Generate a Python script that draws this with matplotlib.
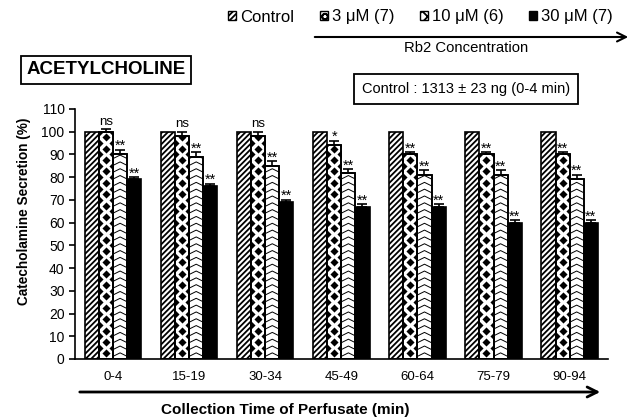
import numpy as np
import matplotlib
matplotlib.use("Agg")
import matplotlib.pyplot as plt
from matplotlib.patches import Patch, FancyArrowPatch

plt.rcParams['font.family'] = ['Liberation Sans', 'DejaVu Sans']
plt.rcParams['hatch.linewidth'] = 1.3

categories = ["0-4", "15-19", "30-34", "45-49", "60-64", "75-79", "90-94"]
series_names = ["Control", "3 \u03bcM (7)", "10 \u03bcM (6)", "30 \u03bcM (7)"]
control = [100, 100, 100, 100, 100, 100, 100]
rb2_3 = [100, 98, 98, 94, 90, 90, 90]
rb2_10 = [90, 89, 85, 82, 81, 81, 79]
rb2_30 = [79, 76, 69, 67, 67, 60, 60]
err_control = [0, 0, 0, 0, 0, 0, 0]
err_3 = [1, 2, 2, 2, 1, 1, 1]
err_10 = [2, 2, 2, 1.5, 2, 2, 2]
err_30 = [1, 1, 1, 1, 1, 1, 1]
sig_3 = ["ns", "ns", "ns", "*", "**", "**", "**"]
sig_10 = ["**"] * 7
sig_30 = ["**"] * 7

fig = plt.figure(figsize=(6.33, 4.19), dpi=100)
ax = fig.add_axes([0.1185, 0.1432, 0.8415, 0.5968])

x = np.arange(len(categories))
w = 0.185
offs = [-1.5 * w, -0.5 * w, 0.5 * w, 1.5 * w]

b0 = ax.bar(x + offs[0], control, w, facecolor='white', edgecolor='black',
            hatch='//////', linewidth=1.2, zorder=2)
b1 = ax.bar(x + offs[1], rb2_3, w, facecolor='white', edgecolor='black',
            linewidth=1.2, zorder=2)
b2 = ax.bar(x + offs[2], rb2_10, w, facecolor='white', edgecolor='black',
            linewidth=1.2, zorder=2)
b3 = ax.bar(x + offs[3], rb2_30, w, facecolor='black', edgecolor='black',
            linewidth=1.2, zorder=2)

# diamond pattern for 3 uM
for rect in b1:
    x0, w0, h0 = rect.get_x(), rect.get_width(), rect.get_height()
    cx = x0 + w0 / 2
    ys_c = np.arange(2.5, h0, 5.0)
    ys_e = np.arange(5.0, h0 + 2.5, 5.0)
    sc = ax.scatter(np.full_like(ys_c, cx), ys_c, marker='D', s=17, c='black',
                    linewidths=0, zorder=3)
    sc.set_clip_path(rect)
    for ex in (x0, x0 + w0):
        se = ax.scatter(np.full_like(ys_e, ex), ys_e, marker='D', s=17, c='black',
                        linewidths=0, zorder=3)
        se.set_clip_path(rect)
    ax.add_patch(plt.Rectangle((x0, 0), w0, h0, fill=False, edgecolor='black',
                               linewidth=1.2, zorder=4))

# chevron pattern for 10 uM
for rect in b2:
    x0, w0, h0 = rect.get_x(), rect.get_width(), rect.get_height()
    for yy in np.arange(1.0, h0 + 3, 3.0):
        xs = [x0 - 0.01, x0 + w0 / 2, x0 + w0 + 0.01]
        ys = [yy, yy + 1.7, yy]
        ln, = ax.plot(xs, ys, color='black', lw=0.7, zorder=3)
        ln.set_clip_path(rect)
    ax.add_patch(plt.Rectangle((x0, 0), w0, h0, fill=False, edgecolor='black',
                               linewidth=1.2, zorder=4))

for vals, errs, off in [(rb2_3, err_3, offs[1]), (rb2_10, err_10, offs[2]),
                        (rb2_30, err_30, offs[3])]:
    ax.errorbar(x + off, vals, yerr=[np.zeros(len(vals)), errs], fmt='none',
                ecolor='black', elinewidth=1.2, capsize=3.5, capthick=1.2, zorder=5)

for vals, errs, sigs, off in [(rb2_3, err_3, sig_3, offs[1]),
                              (rb2_10, err_10, sig_10, offs[2]),
                              (rb2_30, err_30, sig_30, offs[3])]:
    for i in range(len(vals)):
        s = sigs[i]
        fs = 9.5 if s == "ns" else 10.5
        dy = 0.6 if s == "ns" else -1.4
        ax.text(x[i] + off, vals[i] + errs[i] + dy, s, ha='center', va='bottom',
                fontsize=fs, zorder=6)

ax.set_xlim(-0.5, len(categories) - 0.5)
ax.set_ylim(0, 110)
ax.set_yticks(np.arange(0, 111, 10))
ax.tick_params(axis='y', labelsize=10, length=4, width=1.2, direction='out')
ax.tick_params(axis='x', length=0, labelsize=9.5, pad=9)
ax.set_xticks(x)
ax.set_xticklabels(categories)
for s in ['top', 'right']:
    ax.spines[s].set_visible(False)
ax.spines['left'].set_linewidth(1.2)
ax.spines['bottom'].set_linewidth(1.2)

ax.set_ylabel("Catecholamine Secretion (%)", fontsize=9.8, fontweight='bold')
ax.yaxis.set_label_coords(-0.082, 0.59)

fig.add_artist(FancyArrowPatch((77 / 633, 1 - 392 / 419), (603 / 633, 1 - 392 / 419),
                               transform=fig.transFigure, arrowstyle='->',
                               mutation_scale=18, lw=2, color='black'))
fig.text(285 / 633, 1 - 410 / 419, "Collection Time of Perfusate (min)",
         ha='center', va='center', fontsize=11, fontweight='bold')

handles = [Patch(facecolor='white', edgecolor='black', hatch='//////', lw=1),
           Patch(facecolor='white', edgecolor='black', hatch='OO', lw=1),
           Patch(facecolor='white', edgecolor='black', hatch='xxx', lw=1),
           Patch(facecolor='black', edgecolor='black', lw=1)]
fig.legend(handles, series_names, loc='center left', ncol=4, frameon=False,
           bbox_to_anchor=(228 / 633, 1 - 17 / 419), fontsize=12,
           handlelength=0.5, handleheight=0.5, handletextpad=0.25,
           columnspacing=1.5, borderaxespad=0, borderpad=0)

fig.add_artist(FancyArrowPatch((312 / 633, 1 - 37 / 419), (631 / 633, 1 - 37 / 419),
                               transform=fig.transFigure, arrowstyle='->',
                               mutation_scale=16, lw=1.5, color='black'))
fig.text(466 / 633, 1 - 48 / 419, "Rb2 Concentration", ha='center', va='center',
         fontsize=10.7)

fig.text(106 / 633, 1 - 70 / 419, "ACETYLCHOLINE", ha='center', va='center',
         fontsize=13.5, fontweight='bold',
         bbox=dict(boxstyle='square,pad=0.3', facecolor='white', edgecolor='black', lw=1.3))
fig.text(466 / 633, 1 - 89 / 419, "Control : 1313 \u00b1 23 ng (0-4 min)", ha='center',
         va='center', fontsize=10.5,
         bbox=dict(boxstyle='square,pad=0.55', facecolor='white', edgecolor='black', lw=1.3))

fig.savefig("out.png", dpi=100)
